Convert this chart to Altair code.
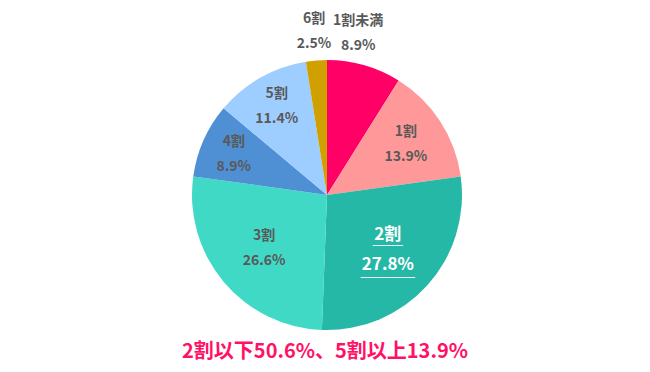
import altair as alt
import pandas as pd

categories = ["1割未満", "1割", "2割", "3割", "4割", "5割", "6割"]
values = [8.9, 13.9, 27.8, 26.6, 8.9, 11.4, 2.5]
colors = ["#FF0066", "#FF9999", "#26B8A6", "#3FD9C6", "#4F90D5", "#9ECEFF", "#D0A000"]
summary_text = "2割以下50.6%、5割以上13.9%"

df = pd.DataFrame({
    "cat": categories,
    "value": values,
    "idx": list(range(len(categories))),
    "pct": [f"{v:.1f}%" for v in values],
})

CX, CY = 327, 195
FONT = "Noto Sans CJK JP"
total = sum(values)

base = alt.Chart(df).transform_window(
    cum="sum(value)", sort=[alt.SortField("idx")], frame=[None, 0]
).transform_calculate(
    start="datum.cum - datum.value",
    mid="datum.cat == '1割未満' ? datum.cum - datum.value * 0.66 : datum.cum - datum.value / 2",
    lr="(datum.cat == '1割未満' || datum.cat == '6割') ? 165 : "
       "(datum.cat == '1割') ? 94 : "
       "(datum.cat == '4割' || datum.cat == '5割') ? 102 : 82",
).encode(
    x=alt.value(CX), y=alt.value(CY),
)

tscale = alt.Scale(domain=[0, total])

pie = base.mark_arc(outerRadius=135).encode(
    theta=alt.Theta("start:Q", scale=tscale, stack=None),
    theta2="cum:Q",
    color=alt.Color("cat:N", scale=alt.Scale(domain=categories, range=colors), legend=None),
)

is_hl = alt.datum.cat == "2割"
not_hl = alt.datum.cat != "2割"
rad = alt.Radius("lr:Q", scale=None)
th = alt.Theta("mid:Q", scale=tscale, stack=None)

normal = base.transform_filter(not_hl)
hl = base.transform_filter(is_hl)

top = normal.mark_text(dy=-12, font=FONT, fontWeight="bold", fontSize=14, color="#595959").encode(
    theta=th, radius=rad, text="cat:N")
bot = normal.mark_text(dy=13, font=FONT, fontWeight="bold", fontSize=14, color="#595959").encode(
    theta=th, radius=rad, text="pct:N")

htop = hl.mark_text(dy=-15, font=FONT, fontWeight="bold", fontSize=17, color="white").encode(
    theta=th, radius=rad, text="cat:N")
hbot = hl.mark_text(dy=15, font=FONT, fontWeight="bold", fontSize=17, color="white").encode(
    theta=th, radius=rad, text="pct:N")
u1 = hl.mark_text(dy=-11, font="DejaVu Sans", fontSize=12, color="white").encode(
    theta=th, radius=rad, text=alt.value("_____"))
u2 = hl.mark_text(dy=21, font="DejaVu Sans", fontSize=12, color="white").encode(
    theta=th, radius=rad, text=alt.value("_________"))

summary = alt.Chart(pd.DataFrame({"t": [summary_text]})).mark_text(
    font=FONT, fontWeight="bold", fontSize=20, color="#FF1166"
).encode(x=alt.value(325), y=alt.value(352), text="t:N")

chart = alt.layer(pie, top, bot, htop, hbot, u1, u2, summary).properties(
    width=650, height=372,
    autosize=alt.AutoSizeParams(type="none"),
    padding=0,
).configure_view(stroke=None)

chart.save("out.html", embed_options={"renderer": "svg", "actions": False})
